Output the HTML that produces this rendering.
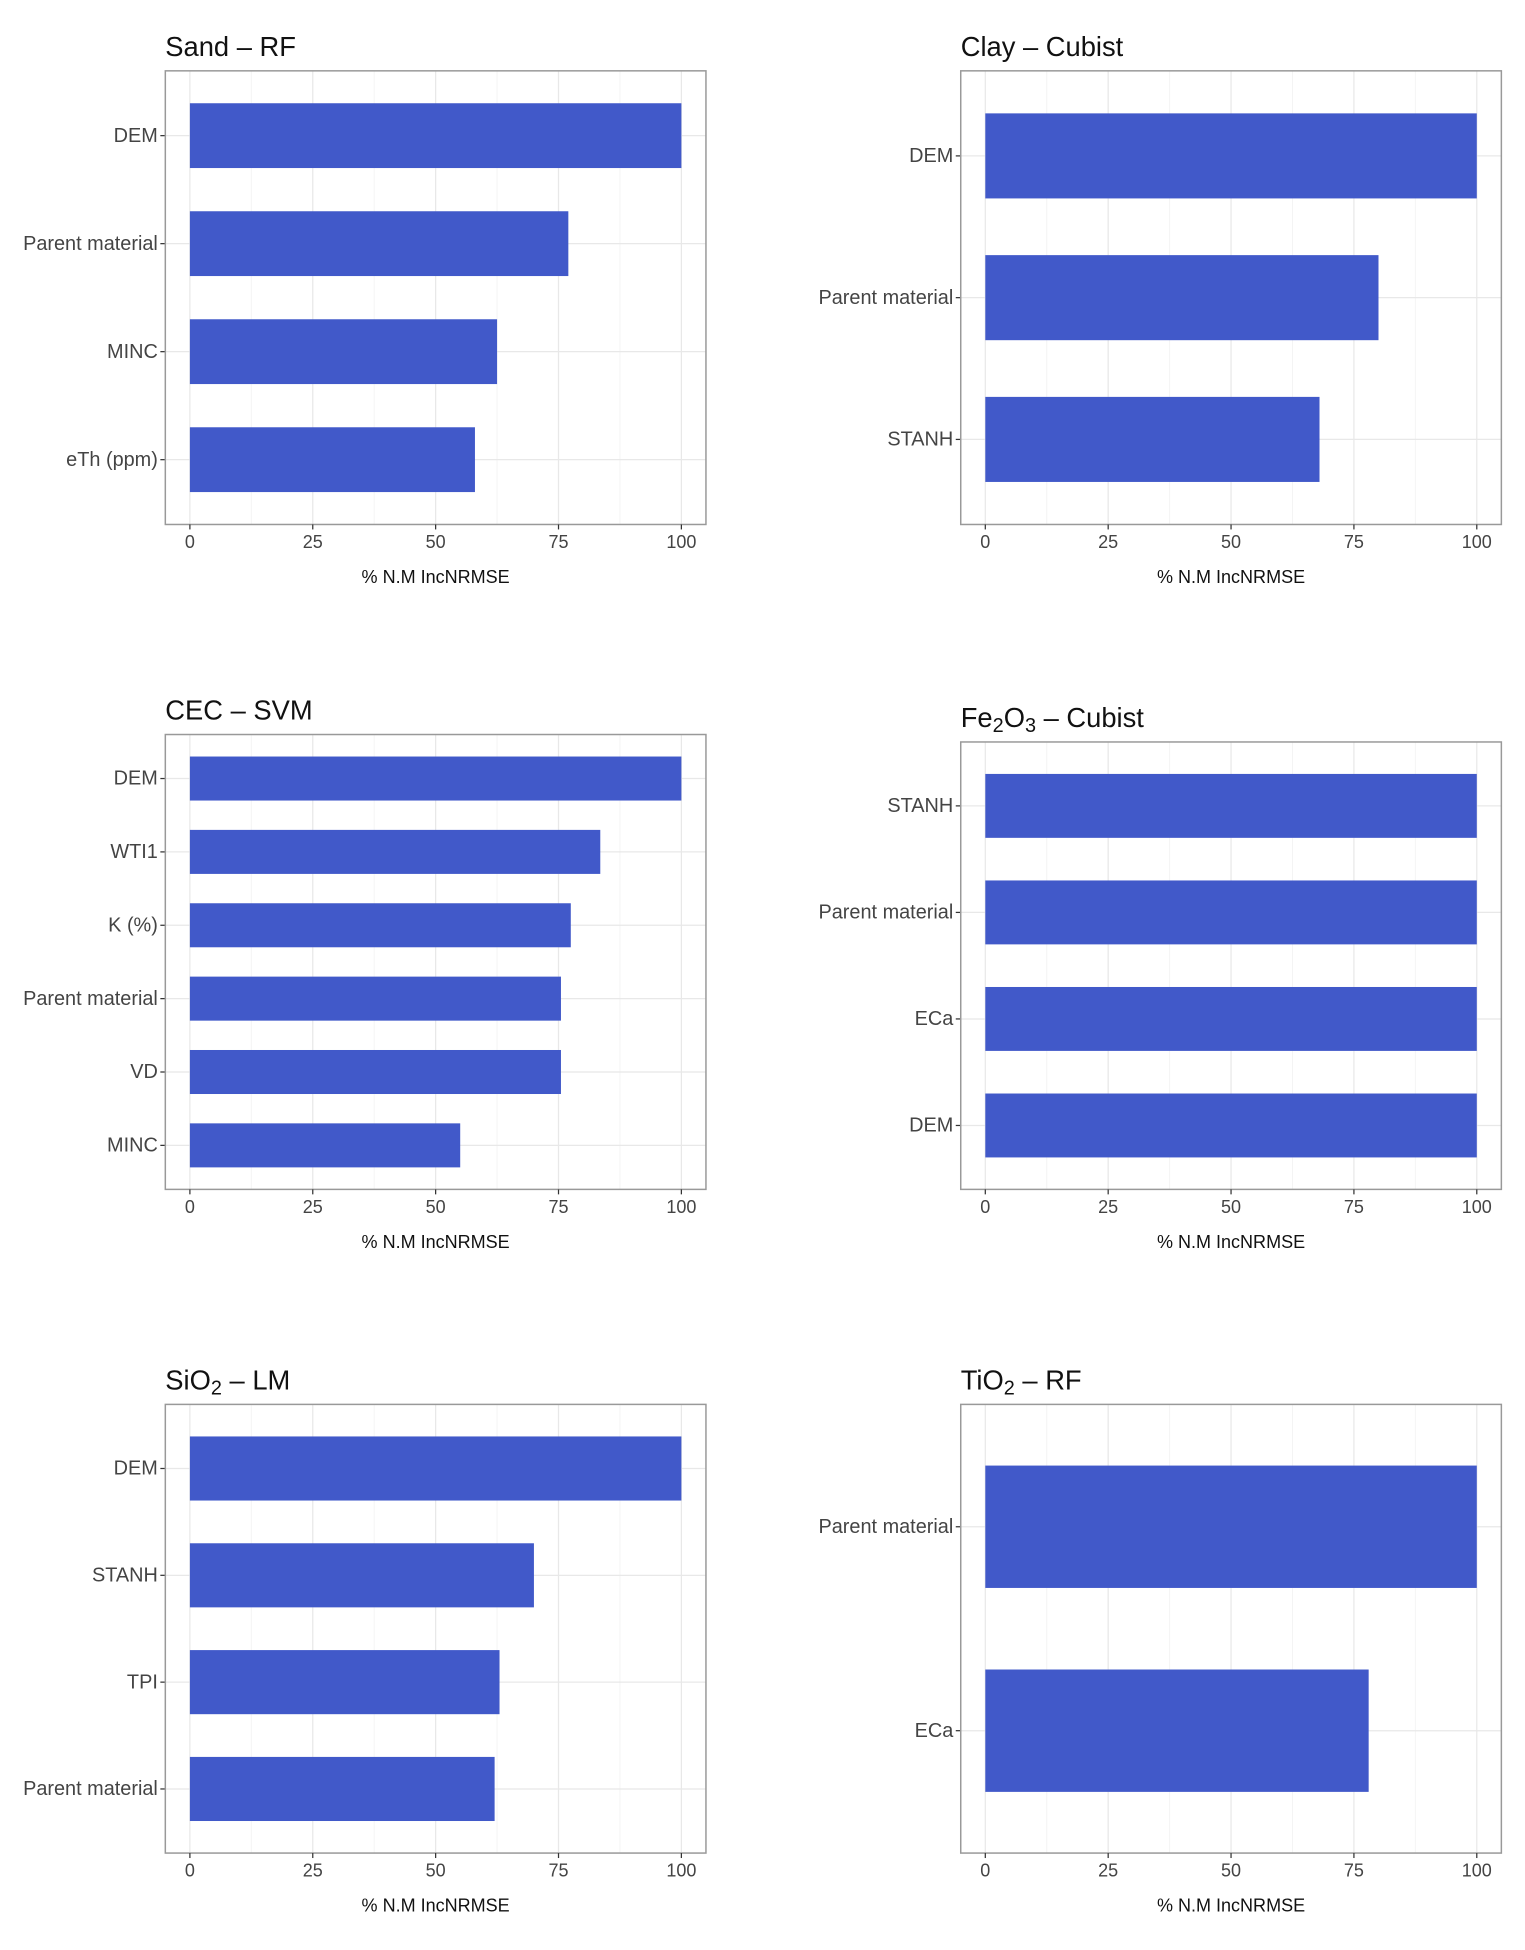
<!DOCTYPE html>
<html><head><meta charset="utf-8"><style>
html,body{margin:0;padding:0;background:#fff;}
svg{display:block;font-family:"Liberation Sans",sans-serif;}
</style></head><body>
<svg id="chart" width="1525" height="1950" viewBox="0 0 1227 1569" xmlns="http://www.w3.org/2000/svg"></svg>
<script>
const sandCats=["DEM","Parent material","MINC","eTh (ppm)"];
const sandVals=[100,77,62.5,58];
const clayCats=["DEM","Parent material","STANH"];
const clayVals=[100,80,68];
const cecCats=["DEM","WTI1","K (%)","Parent material","VD","MINC"];
const cecVals=[100,83.5,77.5,75.5,75.5,55];
const feCats=["STANH","Parent material","ECa","DEM"];
const feVals=[100,100,100,100];
const sioCats=["DEM","STANH","TPI","Parent material"];
const sioVals=[100,70,63,62];
const tioCats=["Parent material","ECa"];
const tioVals=[100,78];
const xTicks=[0,25,50,75,100];
const xTitle="% N.M IncNRMSE";

const panels=[
 {id:"sand",title:"Sand – RF",x:133,y:57,y2:422,cats:sandCats,vals:sandVals},
 {id:"clay",title:"Clay – Cubist",x:773,y:57,y2:422,cats:clayCats,vals:clayVals},
 {id:"cec",title:"CEC – SVM",x:133,y:591,y2:957,cats:cecCats,vals:cecVals},
 {id:"fe2o3",title:"Fe<tspan baseline-shift='-4' font-size='16'>2</tspan>O<tspan baseline-shift='-4' font-size='16'>3</tspan> – Cubist",x:773,y:597,y2:957,cats:feCats,vals:feVals},
 {id:"sio2",title:"SiO<tspan baseline-shift='-4' font-size='16'>2</tspan> – LM",x:133,y:1130,y2:1491,cats:sioCats,vals:sioVals},
 {id:"tio2",title:"TiO<tspan baseline-shift='-4' font-size='16'>2</tspan> – RF",x:773,y:1130,y2:1491,cats:tioCats,vals:tioVals}
];
const W=435;
const svg=document.getElementById('chart');
const NS="http://www.w3.org/2000/svg";
function mk(t,a,p){const e=document.createElementNS(NS,t);for(const k in a)e.setAttribute(k,a[k]);(p||svg).appendChild(e);return e;}
panels.forEach(p=>{
 const g=mk('g',{});
 
 
 const H=p.y2-p.y;
 const sx=v=>p.x+W*(v+5)/110;
 const n=p.cats.length;
 const unit=H/(n-1+1.2);
 const sy=i=>p.y+unit*(0.6+i);
 const t=mk('text',{x:p.x,y:p.y-12,'font-size':22,fill:'#111'},g);
 t.innerHTML=p.title;
 
 
 mk('rect',{x:p.x,y:p.y,width:W,height:H,fill:'#fff'},g);
 for(let v=12.5;v<100;v+=25){mk('line',{x1:sx(v),x2:sx(v),y1:p.y,y2:p.y2,stroke:'#f4f4f4','stroke-width':0.8},g);}
 xTicks.forEach(v=>{mk('line',{x1:sx(v),x2:sx(v),y1:p.y,y2:p.y2,stroke:'#e8e8e8','stroke-width':1},g);});
 p.cats.forEach((c,i)=>{mk('line',{x1:p.x,x2:p.x+W,y1:sy(i),y2:sy(i),stroke:'#e8e8e8','stroke-width':1},g);});
 p.cats.forEach((c,i)=>{
  const b=mk('rect',{x:sx(0),y:sy(i)-unit*0.3,width:sx(p.vals[i])-sx(0),height:unit*0.6,fill:'#4159C9'},g);
  
  
  mk('line',{x1:p.x-4,x2:p.x,y1:sy(i),y2:sy(i),stroke:'#333','stroke-width':1},g);
  const l=mk('text',{x:p.x-6,y:sy(i)+5,'font-size':16,fill:'#444','text-anchor':'end'},g);
  l.textContent=c;
  
  
 });
 mk('rect',{x:p.x,y:p.y,width:W,height:H,fill:'none',stroke:'#999','stroke-width':1.2},g);
 xTicks.forEach(v=>{
  mk('line',{x1:sx(v),x2:sx(v),y1:p.y2,y2:p.y2+4,stroke:'#333','stroke-width':1},g);
  const l=mk('text',{x:sx(v),y:p.y2+19,'font-size':14.5,fill:'#444','text-anchor':'middle'},g);
  l.textContent=v;
  
  
 });
 const xt=mk('text',{x:p.x+W/2,y:p.y2+47,'font-size':14.5,fill:'#111','text-anchor':'middle'},g);
 xt.textContent=xTitle;
 
 
});
</script>
</body></html>
